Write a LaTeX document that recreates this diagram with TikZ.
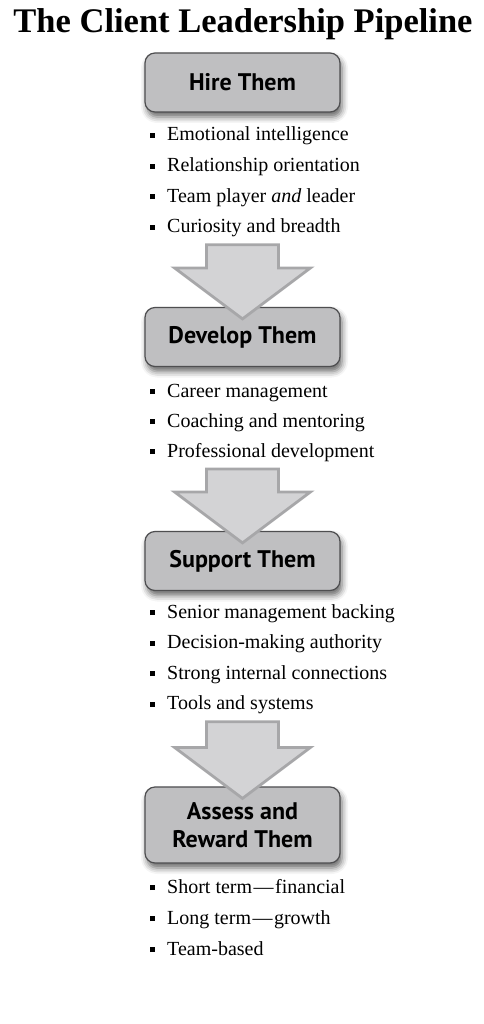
\documentclass[tikz,border=0pt]{standalone}
\usepackage{fontspec}
\setmainfont{Liberation Serif}
\newfontfamily\phasefont{PT Sans}
\usepackage{xcolor}
\usetikzlibrary{positioning, calc, shadows.blur}

\definecolor{phasefill}{HTML}{BFBFC1}
\definecolor{phaseedge}{HTML}{4E4E50}
\definecolor{flowfill}{HTML}{D3D3D5}
\definecolor{flowedge}{HTML}{A7A7A9}

\newcommand{\sqbullet}{\raisebox{3pt}{\rule{5pt}{5pt}}\hspace{12pt}}

\begin{document}
\begin{tikzpicture}[x=1pt, y=-1pt,
      phase/.style={
          draw=phaseedge, rectangle, rounded corners=10pt,
          fill=phasefill, minimum width=195pt,
          minimum height=59pt, align=center,
          font=\phasefont\bfseries\fontsize{24}{28}\selectfont,
          line width=1.2pt,
          blur shadow={shadow xshift=2pt, shadow yshift=-5pt,
              shadow blur radius=6pt, shadow opacity=60}
        },
      point/.style={anchor=base west, inner sep=0pt,
          font=\fontsize{20}{22}\selectfont},
      flow/.style={fill=flowfill, draw=flowedge, line width=2.8pt,
          line join=miter}
    ]
    \useasboundingbox (0,0) rectangle (483,1024);

    % ── Title ──
    \node[anchor=base, font=\bfseries\fontsize{34.5}{36}\selectfont]
      (title) at (243,33) {The Client Leadership Pipeline};

    % ── Pipeline phases (vertical) ──
    \node[phase] (hire)    at (242.5,82.5) {Hire Them};
    \node[phase] (develop) at (242.5,337)  {Develop Them};
    \node[phase] (support) at (242.5,561)  {Support Them};
    \node[phase, minimum height=76pt] (assess) at (242.5,825)
      {Assess and\\Reward Them};

    % ── Bullet points under each phase ──
    \foreach \txt [count=\i] in {Emotional intelligence,
        Relationship orientation, Team player \emph{and} leader,
        Curiosity and breadth}
      \node[point] (hire-\i) at (150,{141+30.6*(\i-1)}) {\sqbullet\txt};
    \foreach \txt [count=\i] in {Career management,
        Coaching and mentoring, Professional development}
      \node[point] (develop-\i) at (150,{397+30*(\i-1)}) {\sqbullet\txt};
    \foreach \txt [count=\i] in {Senior management backing,
        Decision-making authority, Strong internal connections,
        Tools and systems}
      \node[point] (support-\i) at (150,{618+30.6*(\i-1)}) {\sqbullet\txt};
    \foreach \txt [count=\i] in {Short term\hspace{1.5pt}---\hspace{1.5pt}financial,
        Long term\hspace{1.5pt}---\hspace{1.5pt}growth, Team-based}
      \node[point] (assess-\i) at (150,{893+31*(\i-1)}) {\sqbullet\txt};

    % ── Block arrows between phases ──
    \foreach \src/\dst in {hire-4/develop, develop-3/support,
        support-4/assess} {
      \coordinate (top) at ($(\src.base -| \dst.north)+(0,12)$);
      \coordinate (tip) at ($(\dst.north)+(0,12)$);
      \draw[flow] ($(top)+(-36,0)$) -- ($(top)+(36,0)$)
        -- ($(tip)+(36,-51)$) -- ($(tip)+(68,-51)$) -- (tip)
        -- ($(tip)+(-68,-51)$) -- ($(tip)+(-36,-51)$) -- cycle;
    }

  \end{tikzpicture}
\end{document}
